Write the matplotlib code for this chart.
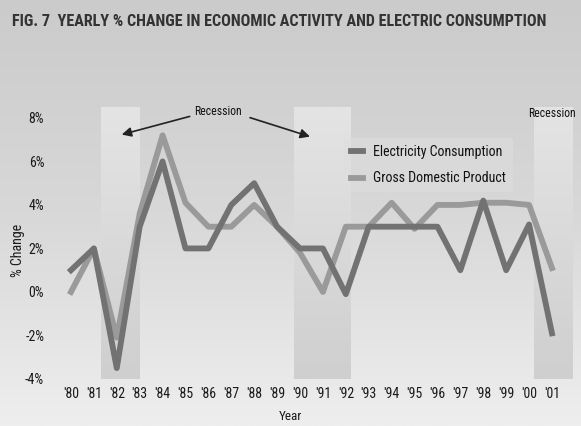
import numpy as np
import matplotlib
matplotlib.use("Agg")
import matplotlib.pyplot as plt
from matplotlib import font_manager

years = list(range(1980, 2002))
year_labels = ["'80", "'81", "'82", "'83", "'84", "'85", "'86", "'87", "'88", "'89", "'90",
               "'91", "'92", "'93", "'94", "'95", "'96", "'97", "'98", "'99", "'00", "'01"]
electricity = [1.0, 2.0, -3.5, 3.0, 6.0, 2.0, 2.0, 4.0, 5.0, 3.0, 2.0,
               2.0, -0.1, 3.0, 3.0, 3.0, 3.0, 1.0, 4.2, 1.0, 3.1, -1.9]
gdp = [0.0, 2.0, -2.1, 3.6, 7.2, 4.1, 3.0, 3.0, 4.0, 3.0, 1.8,
       0.0, 3.0, 3.0, 4.1, 2.9, 4.0, 4.0, 4.1, 4.1, 4.0, 1.1]
recessions = [(1981.3, 1983.0), (1989.75, 1992.2), (2000.2, 2001.9)]
yticks = [-4, -2, 0, 2, 4, 6, 8]
ytick_labels = ["-4%", "-2%", "0%", "2%", "4%", "6%", "8%"]
title = 'FIG. 7  YEARLY % CHANGE IN ECONOMIC ACTIVITY AND ELECTRIC CONSUMPTION'

# pick a condensed font if one is installed
avail = {f.name for f in font_manager.fontManager.ttflist}
cand = ['Liberation Sans Narrow', 'Roboto Condensed', 'DejaVu Sans Condensed',
        'Open Sans Condensed', 'Noto Sans Condensed']
picked = next((c for c in cand if c in avail), None)
if picked is None:
    FONT = ['DejaVu Sans']
    STRETCH = 'condensed'
else:
    FONT = [picked, 'DejaVu Sans']
    STRETCH = 'normal'
plt.rcParams['font.family'] = FONT
plt.rcParams['font.stretch'] = STRETCH

W, H = 581, 426
fig = plt.figure(figsize=(W / 100, H / 100), dpi=100)

# background gradient
bg = fig.add_axes([0, 0, 1, 1], zorder=-10)
grad = np.linspace(0, 1, 256).reshape(-1, 1)
bg.imshow(grad, aspect='auto', cmap=matplotlib.colors.LinearSegmentedColormap.from_list(
    'bg', ['#cbcbcb', '#d8d8d8', '#eeeeee']), extent=(0, 1, 0, 1), origin='upper')
bg.set_axis_off()

ax = fig.add_axes([59.5 / W, 47 / H, (572.6 - 59.5) / W, (379 - 107) / H])
ax.patch.set_alpha(0)
xlo, xhi, ylo, yhi = 1979.5, 2001.9, -4.0, 8.5

band_cmap = matplotlib.colors.LinearSegmentedColormap.from_list('band', ['#e4e4e4', '#cfcfcf'])
for x0, x1 in recessions:
    ax.imshow(grad, aspect='auto', cmap=band_cmap, extent=(x0, x1, ylo, yhi),
              origin='upper', zorder=0)

ax.plot(years, gdp, color='#9a9a9a', lw=4.2, solid_joinstyle='round', zorder=3,
        label='Gross Domestic Product')
ax.plot(years, electricity, color='#727272', lw=4.2, solid_joinstyle='round', zorder=4,
        label='Electricity Consumption')

ax.set_xlim(xlo, xhi)
ax.set_ylim(ylo, yhi)
ax.set_xticks(years)
ax.set_xticklabels(year_labels, fontsize=10, color='#1a1a1a')
ax.set_yticks(yticks)
ax.set_yticklabels(ytick_labels, fontsize=10, color='#1a1a1a')
ax.tick_params(length=0, pad=6)
ax.tick_params(axis='y', pad=11)
for s in ax.spines.values():
    s.set_visible(False)

fig.text(18 / W, 1 - 250 / H, '% Change', fontsize=10, color='#1a1a1a', rotation=90,
         ha='center', va='center')
fig.text(290 / W, 1 - 417 / H, 'Year', fontsize=9.5, color='#1a1a1a', ha='center', va='center')

h, l = ax.get_legend_handles_labels()
leg = ax.legend([h[1], h[0]], [l[1], l[0]], loc='upper left',
                bbox_to_anchor=((344 - 59.5) / (572.6 - 59.5), 1 - (138 - 107) / 272),
                frameon=True, facecolor='#dedede', edgecolor='none', framealpha=0.55,
                fontsize=10, handlelength=0.9, handletextpad=0.7, labelspacing=0.9,
                borderaxespad=0, borderpad=0.5)
for txt in leg.get_texts():
    txt.set_color('#111111')

ax.text(1986.4, 8.3, 'Recession', fontsize=8.5, ha='center', va='center', color='#111111')
ax.annotate('', xy=(1982.1, 7.2), xytext=(1985.3, 8.1),
            arrowprops=dict(arrowstyle='-|>', color='#222222', lw=1.2, mutation_scale=14))
ax.annotate('', xy=(1990.55, 7.1), xytext=(1987.7, 8.05),
            arrowprops=dict(arrowstyle='-|>', color='#222222', lw=1.2, mutation_scale=14))
ax.text(2001.0, 8.2, 'Recession', fontsize=8.5, ha='center', va='center', color='#111111')

t = fig.text(12 / W, 1 - 22 / H, title, fontsize=13, fontweight='bold', color='#333333',
             ha='left', va='center')
# fit title width to the reference (about 536 px)
r = fig.canvas.get_renderer()
w = t.get_window_extent(renderer=r).width
t.set_fontsize(min(15.0, 13 * 536.0 / w))

fig.savefig('out.png', dpi=100, facecolor=fig.get_facecolor())
